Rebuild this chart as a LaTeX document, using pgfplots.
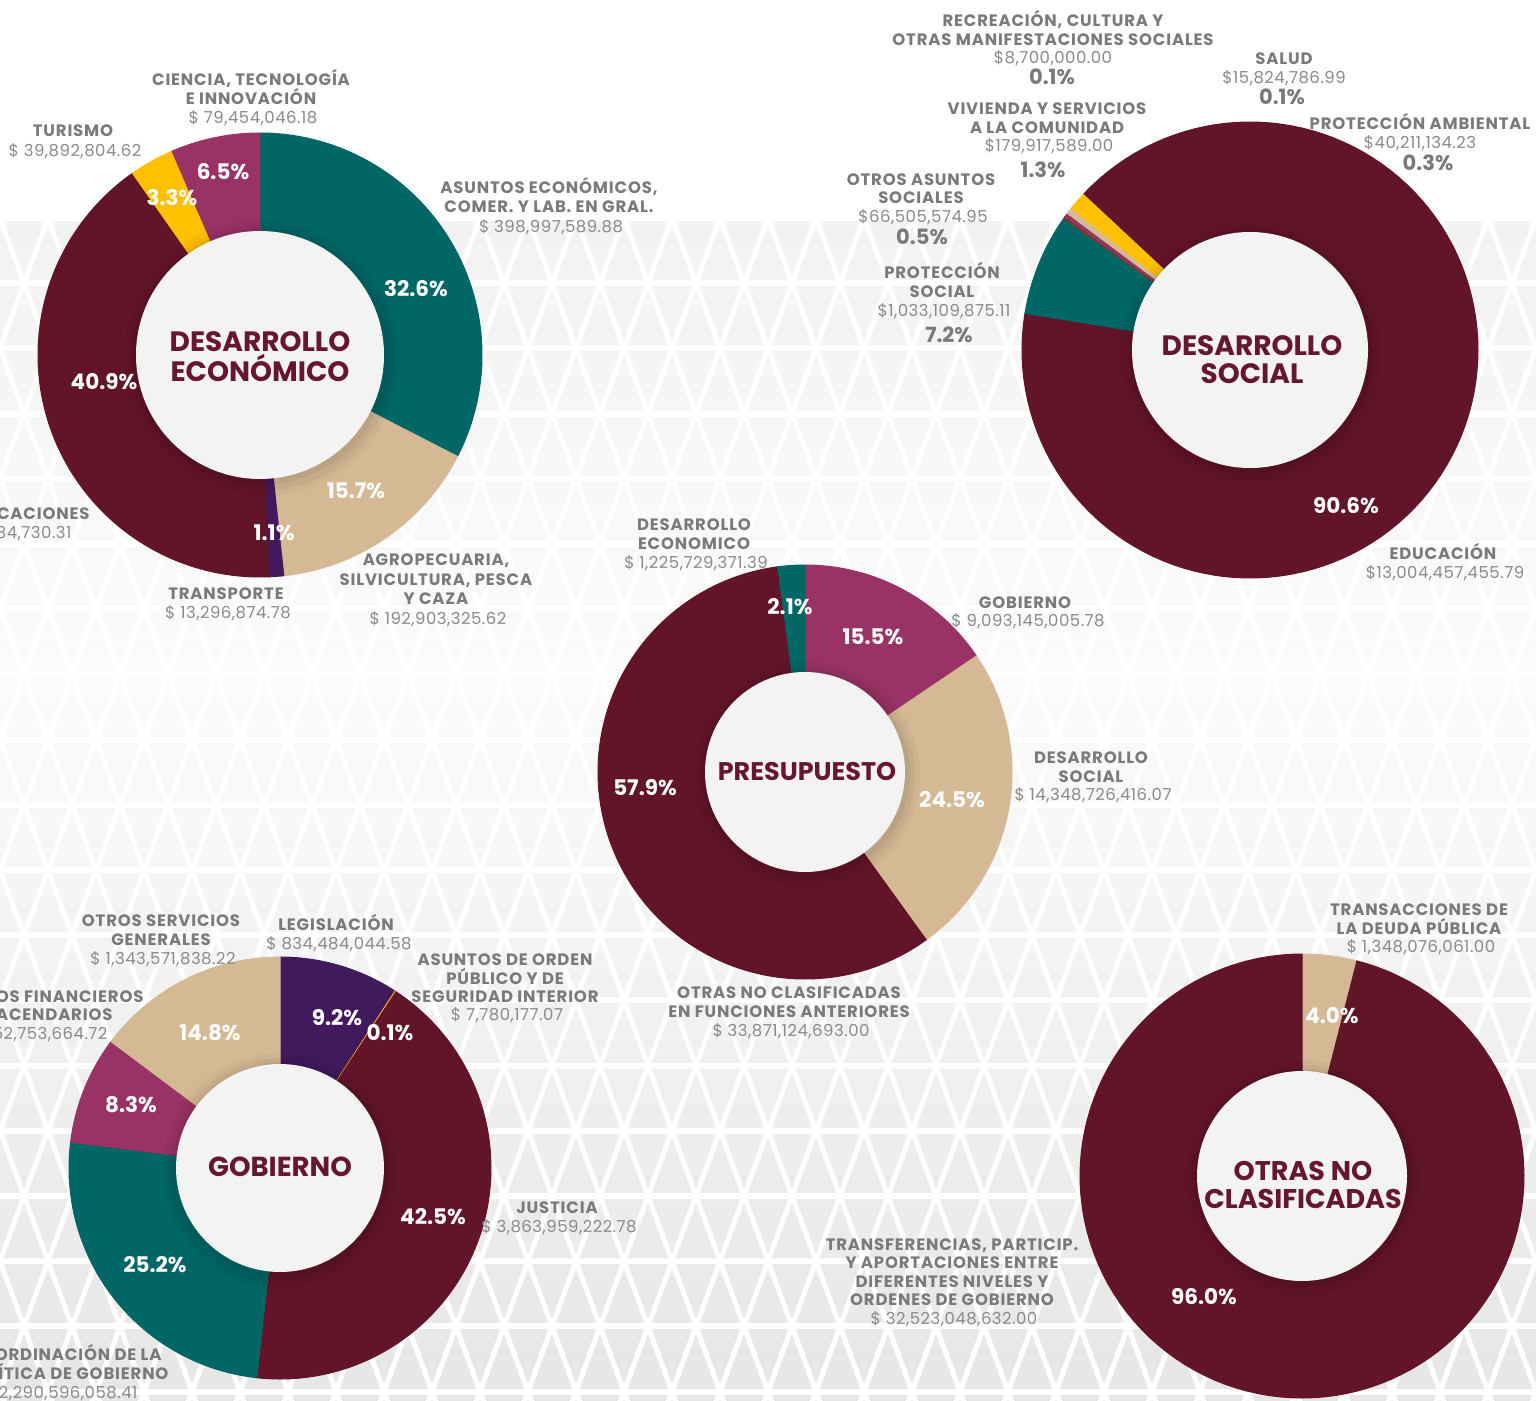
\documentclass[border=0pt]{standalone}
\usepackage{pgfplots}
\pgfplotsset{compat=1.18}
\usepackage{fontspec}
\setmainfont{Poppins}
\newfontfamily\lblfont[LetterSpace=5]{Poppins}
\newfontfamily\amfont[LetterSpace=3]{Poppins}

\definecolor{cmaroon}{HTML}{621428}
\definecolor{cteal}{HTML}{006766}
\definecolor{ctan}{HTML}{D5B994}
\definecolor{cmag}{HTML}{993365}
\definecolor{cgold}{HTML}{FFC000}
\definecolor{cpurple}{HTML}{401A5C}
\definecolor{cbrown}{HTML}{6B4226}
\definecolor{holegray}{HTML}{F3F3F3}
\definecolor{titlecol}{HTML}{671630}
\definecolor{labgray}{HTML}{7A7A7A}
\definecolor{amgray}{HTML}{8A8A8A}
\definecolor{bgtop}{HTML}{F2F2F2}
\definecolor{bgmid}{HTML}{FBFBFB}
\definecolor{bgbot}{HTML}{E6E6E6}

% donut helpers: centre, outer radius, total, start angle (deg, clockwise from top)
\newcommand\donut[5]{\gdef\cx{#1}\gdef\cy{#2}\gdef\R{#3}\gdef\total{#4}\xdef\a{#5}}
\newcommand\slice[2]{%
  \xdef\b{\fpeval{round(\a + (#1)/(\total)*360, 4)}}%
  \edef\tmp{\noexpand\addplot[fill=#2, draw=#2, line width=1pt, domain=\a:\b, samples=120]
    ({\cx+\R*sin(x)},{\cy-\R*cos(x)}) -- (axis cs:\cx,\cy) -- cycle;}%
  \tmp
  \xdef\a{\b}}
\newcommand\hole[1]{%
  \edef\tmp{%
    \noexpand\fill[black,opacity=0.03] (axis cs:\fpeval{\cx+1},\fpeval{\cy+3}) circle[radius=\fpeval{#1+14}];
    \noexpand\fill[black,opacity=0.04] (axis cs:\fpeval{\cx+1},\fpeval{\cy+3}) circle[radius=\fpeval{#1+9}];
    \noexpand\fill[black,opacity=0.05] (axis cs:\fpeval{\cx+1},\fpeval{\cy+2}) circle[radius=\fpeval{#1+4}];
    \noexpand\fill[holegray] (axis cs:\cx,\cy) circle[radius=#1];}%
  \tmp}

% text helpers (y = centre of the capitals, in pixels from the top)
\newcommand\tl[3]{\node[anchor=base, font=\lblfont\fontsize{16.5}{19}\selectfont\bfseries, text=labgray] at (axis cs:#1,{#2+5.8}) {#3};}
\newcommand\tlr[3]{\node[anchor=base east, font=\lblfont\fontsize{16.5}{19}\selectfont\bfseries, text=labgray] at (axis cs:#1,{#2+5.8}) {#3};}
\newcommand\am[3]{\node[anchor=base, font=\amfont\fontsize{16.5}{19}\selectfont, text=amgray] at (axis cs:#1,{#2+5.8}) {#3};}
\newcommand\amr[3]{\node[anchor=base east, font=\amfont\fontsize{16.5}{19}\selectfont, text=amgray] at (axis cs:#1,{#2+5.8}) {#3};}
\newcommand\op[3]{\node[anchor=base, font=\fontsize{21}{24}\selectfont\bfseries, text=labgray] at (axis cs:#1,{#2+7.4}) {#3};}
\newcommand\ip[3]{\node[anchor=base, font=\fontsize{21.5}{24}\selectfont\bfseries, text=white] at (axis cs:#1,{#2+7.5}) {#3};}
\newcommand\ti[4]{\node[anchor=base, font=\fontsize{#1}{30}\selectfont\bfseries, text=titlecol] at (axis cs:#2,{#3+9.5}) {#4};}

\begin{document}
\begin{tikzpicture}
\useasboundingbox (0,0) rectangle (1536pt,1400pt);
\clip (0,0) rectangle (1536pt,1400pt);

% background: white top, light grey triangle lattice below
\begin{scope}[x=1pt,y=1pt]
\fill[white] (0,0) rectangle (1536,1400);
\shade[top color=bgtop, bottom color=bgmid] (0,720) rectangle (1536,1182);
\shade[top color=bgmid, bottom color=bgbot] (0,0) rectangle (1536,720);
\foreach \k in {0,...,18}
  \draw[white, line width=6] (0,{1182-65.2*\k}) -- (1536,{1182-65.2*\k});
\foreach \k in {-10,...,42} {
  \draw[white, line width=5] ({48*\k},1182) -- ({48*\k+463.8},-78);
  \draw[white, line width=5] ({48*\k},1182) -- ({48*\k-463.8},-78);
}
\end{scope}

\begin{axis}[
  scale only axis, width=1536pt, height=1400pt,
  xmin=0, xmax=1536, ymin=0, ymax=1400, y dir=reverse,
  hide axis, clip=false]

%% DESARROLLO ECONOMICO
\donut{260}{355}{222}{1225729371.39}{0}
\slice{398997589.88}{cteal}
\slice{192903325.62}{ctan}
\slice{13296874.78}{cpurple}
\slice{501184730.31}{cmaroon}
\slice{39892804.62}{cgold}
\slice{79454046.18}{cmag}
\hole{124}

%% DESARROLLO SOCIAL
\donut{1250}{350}{228}{14348726416.07}{-47}
\slice{13004457455.79}{cmaroon}
\slice{1033109875.11}{cteal}
\slice{15824786.99}{cbrown}
\slice{8700000.00}{cbrown}
\slice{40211134.23}{cmag}
\slice{66505574.95}{ctan}
\slice{179917589.00}{cgold}
\hole{118}

%% PRESUPUESTO
\donut{805}{772}{207}{58538725486.24}{0}
\slice{9093145005.78}{cmag}
\slice{14348726416.07}{ctan}
\slice{33871124693.00}{cmaroon}
\slice{1225729371.39}{cteal}
\hole{100}

%% GOBIERNO
\donut{280}{1168}{211}{9093145005.78}{0}
\slice{834484044.58}{cpurple}
\slice{7780177.07}{cgold}
\slice{3863959222.78}{cmaroon}
\slice{2290596058.41}{cteal}
\slice{752753664.72}{cmag}
\slice{1343571838.22}{ctan}
\hole{104}

%% OTRAS NO CLASIFICADAS
\donut{1302}{1176}{222}{33871124693.00}{0}
\slice{1348076061.00}{ctan}
\slice{32523048632.00}{cmaroon}
\hole{105}

% --- texts: desarrollo economico
\ti{28}{260}{342}{DESARROLLO}
\ti{28}{260}{372}{ECONÓMICO}
\ip{416}{289}{32.6\%}
\ip{356}{491}{15.7\%}
\ip{274}{533}{1.1\%}
\ip{104}{382}{40.9\%}
\ip{172}{198}{3.3\%}
\ip{223}{172}{6.5\%}
\tl{251}{80}{CIENCIA, TECNOLOGÍA}
\tl{251}{99}{E INNOVACIÓN}
\am{253}{118}{\$ 79,454,046.18}
\tl{73}{131}{TURISMO}
\am{75}{151}{\$ 39,892,804.62}
\tl{549}{188}{ASUNTOS ECONÓMICOS,}
\tl{549}{207}{COMER. Y LAB. EN GRAL.}
\am{551}{227}{\$ 398,997,589.88}
\tl{436}{560}{AGROPECUARIA,}
\tl{436}{580}{SILVICULTURA, PESCA}
\tl{436}{599}{Y CAZA}
\am{438}{619}{\$ 192,903,325.62}
\tl{226}{594}{TRANSPORTE}
\am{228}{613}{\$ 13,296,874.78}
\tlr{93}{514}{COMUNICACIONES}
\amr{75}{533}{\$ 501,184,730.31}

% --- desarrollo social
\ti{28}{1252}{346}{DESARROLLO}
\ti{28}{1252}{374}{SOCIAL}
\ip{1346}{506}{90.6\%}
\tl{1053}{21}{RECREACIÓN, CULTURA Y}
\tl{1053}{40}{OTRAS MANIFESTACIONES SOCIALES}
\am{1053}{58}{\$8,700,000.00}
\op{1052}{77}{0.1\%}
\tl{1284}{59}{SALUD}
\am{1284}{78}{\$15,824,786.99}
\op{1282}{97}{0.1\%}
\tl{1047}{109}{VIVIENDA Y SERVICIOS}
\tl{1047}{128}{A LA COMUNIDAD}
\am{1049}{146}{\$179,917,589.00}
\op{1043}{170}{1.3\%}
\tl{1420}{124}{PROTECCIÓN AMBIENTAL}
\am{1420}{143}{\$40,211,134.23}
\op{1428}{163}{0.3\%}
\tl{921}{180}{OTROS ASUNTOS}
\tl{921}{198}{SOCIALES}
\am{923}{217}{\$66,505,574.95}
\op{922}{237}{0.5\%}
\tl{942}{273}{PROTECCIÓN}
\tl{942}{292}{SOCIAL}
\am{944}{311}{\$1,033,109,875.11}
\op{949}{335}{7.2\%}
\tl{1443}{554}{EDUCACIÓN}
\am{1445}{573}{\$13,004,457,455.79}

% --- presupuesto
\ti{25.5}{807}{771}{PRESUPUESTO}
\ip{790}{607}{2.1\%}
\ip{873}{637}{15.5\%}
\ip{952}{800}{24.5\%}
\ip{645}{788}{57.9\%}
\tl{694}{525}{DESARROLLO}
\tl{694}{544}{ECONOMICO}
\am{696}{563}{\$ 1,225,729,371.39}
\tl{1025}{603}{GOBIERNO}
\am{1028}{621}{\$ 9,093,145,005.78}
\tl{1091}{758}{DESARROLLO}
\tl{1091}{777}{SOCIAL}
\am{1093}{795}{\$ 14,348,726,416.07}
\tl{789}{993}{OTRAS NO CLASIFICADAS}
\tl{789}{1012}{EN FUNCIONES ANTERIORES}
\am{791}{1031}{\$ 33,871,124,693.00}

% --- gobierno
\ti{27.5}{280}{1167}{GOBIERNO}
\ip{337}{1018}{9.2\%}
\ip{390}{1033}{0.1\%}
\ip{210}{1033}{14.8\%}
\ip{131}{1105}{8.3\%}
\ip{155}{1265}{25.2\%}
\ip{433}{1217}{42.5\%}
\tl{336}{925}{LEGISLACIÓN}
\am{339}{944}{\$ 834,484,044.58}
\tl{161}{921}{OTROS SERVICIOS}
\tl{161}{940}{GENERALES}
\am{163}{959}{\$ 1,343,571,838.22}
\tl{505}{960}{ASUNTOS DE ORDEN}
\tl{505}{979}{PÚBLICO Y DE}
\tl{505}{997}{SEGURIDAD INTERIOR}
\am{507}{1015}{\$ 7,780,177.07}
\tl{557}{1208}{JUSTICIA}
\am{559}{1227}{\$ 3,863,959,222.78}
\tlr{147}{997}{ASUNTOS FINANCIEROS}
\tlr{116}{1015}{Y HACENDARIOS}
\amr{111}{1034}{\$ 752,753,664.72}
\tlr{165}{1355}{COORDINACIÓN DE LA}
\tlr{172}{1374}{POLÍTICA DE GOBIERNO}
\amr{141}{1393}{\$ 2,290,596,058.41}

% --- otras no clasificadas
\ti{27}{1303}{1171}{OTRAS NO}
\ti{27}{1303}{1199}{CLASIFICADAS}
\ip{1332}{1016}{4.0\%}
\ip{1204}{1297}{96.0\%}
\tl{1419}{910}{TRANSACCIONES DE}
\tl{1419}{929}{LA DEUDA PÚBLICA}
\am{1421}{947}{\$ 1,348,076,061.00}
\tl{952}{1245}{TRANSFERENCIAS, PARTICIP.}
\tl{952}{1263}{Y APORTACIONES ENTRE}
\tl{952}{1282}{DIFERENTES NIVELES Y}
\tl{952}{1300}{ORDENES DE GOBIERNO}
\am{954}{1319}{\$ 32,523,048,632.00}
\end{axis}
\end{tikzpicture}
\end{document}
